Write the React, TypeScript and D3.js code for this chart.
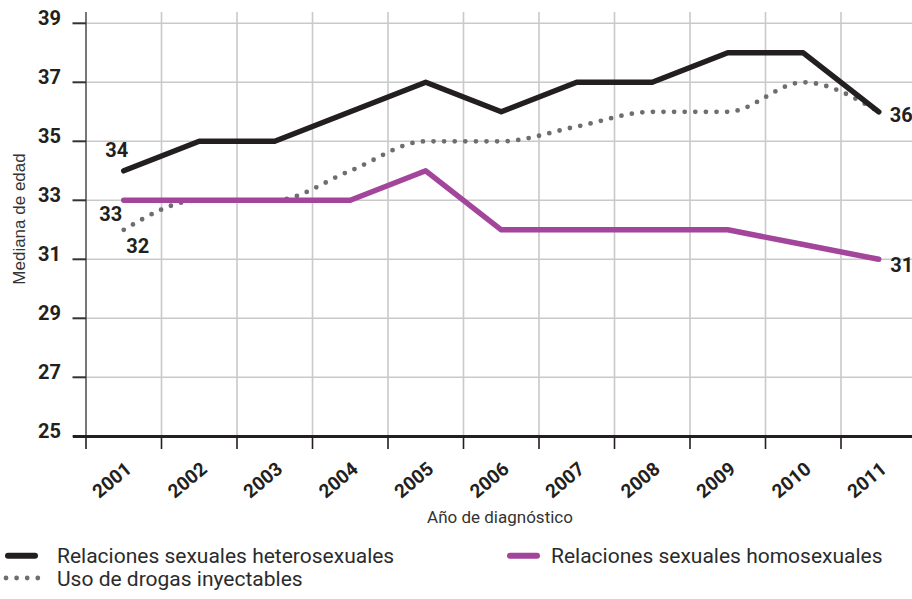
import React from "react";
import * as d3 from "d3";

// Mediana de edad por año de diagnóstico
const years = ["2001", "2002", "2003", "2004", "2005", "2006", "2007", "2008", "2009", "2010", "2011"];
const hetero = [34, 35, 35, 36, 37, 36, 37, 37, 38, 38, 36];
const homo = [33, 33, 33, 33, 34, 32, 32, 32, 32, 31.5, 31];
const drogas = [32, 33, 33, 34, 35, 35, 35.5, 36, 36, 37, 36];
const yTicks = [25, 27, 29, 31, 33, 35, 37, 39];

const seriesNames = [
  "Relaciones sexuales heterosexuales",
  "Relaciones sexuales homosexuales",
  "Uso de drogas inyectables",
];

const width = 912;
const height = 599;
const BLACK = "#231f20";
const PURPLE = "#a4459c";
const GREY = "#6d6e71";
const GRID = "#c9c9c9";
const numFont = "Roboto, 'DejaVu Sans', sans-serif";

const App = () => {
  const x = d3.scaleBand<string>().domain(years).range([86, 916.5]);
  const y = d3.scaleLinear().domain([25, 39]).range([436.3, 23.3]);
  const cx = (i: number) => (x(years[i]) as number) + x.bandwidth() / 2;

  const line = d3
    .line<number>()
    .x((d, i) => cx(i))
    .y((d) => y(d));
  const smooth = d3
    .line<number>()
    .x((d, i) => cx(i))
    .y((d) => y(d))
    .curve(d3.curveMonotoneX);

  const last = years.length - 1;
  // data labels: [text, x, y, anchor]
  const labels: [string, number, number, string][] = [
    [String(hetero[0]), cx(0) - 7, y(hetero[0]) - 14, "middle"],
    [String(homo[0]), cx(0) - 13, y(homo[0]) + 21, "middle"],
    [String(drogas[0]), cx(0) + 14, y(drogas[0]) + 23.5, "middle"],
    [String(hetero[last]), cx(last) + 11, y(hetero[last]) + 10, "start"],
    [String(homo[last]), cx(last) + 11.5, y(homo[last]) + 12.7, "start"],
  ];

  return (
    <svg
      width={width}
      height={height}
      style={{ position: "absolute", left: 0, top: 0, background: "#fff" }}
    >
      {/* grid */}
      <g>
        {yTicks.slice(1).map((t) => (
          <line key={"h" + t} x1={86} x2={width} y1={y(t)} y2={y(t)} stroke={GRID} strokeWidth={1.6} />
        ))}
        {years.slice(1).map((yr) => (
          <line key={"v" + yr} x1={x(yr)} x2={x(yr)} y1={12} y2={436} stroke={GRID} strokeWidth={1.6} />
        ))}
      </g>

      {/* y axis */}
      <line x1={86} x2={86} y1={12} y2={437} stroke="#555" strokeWidth={1.6} />
      {yTicks.map((t) => (
        <g key={"yt" + t}>
          <line x1={72.5} x2={86} y1={y(t)} y2={y(t)} stroke="#333" strokeWidth={2} />
          <text
            x={61}
            y={y(t)}
            dy="0.1em"
            textAnchor="end"
            fontFamily={numFont}
            fontWeight={700}
            fontSize={20}
            fill={BLACK}
          >
            {t}
          </text>
        </g>
      ))}
      <text
        transform={`translate(25,219) rotate(-90)`}
        textAnchor="middle"
        fontFamily="'Liberation Sans', Arial, sans-serif"
        fontSize={17}
        fill="#333"
      >
        Mediana de edad
      </text>

      {/* x axis */}
      <line x1={73} x2={width} y1={436.5} y2={436.5} stroke={BLACK} strokeWidth={3} />
      {years.map((yr) => (
        <line key={"xt" + yr} x1={x(yr)} x2={x(yr)} y1={436} y2={449} stroke={BLACK} strokeWidth={1.6} />
      ))}
      {years.map((yr, i) => (
        <text
          key={"xl" + yr}
          transform={`translate(${cx(i) + 9},471) rotate(-40)`}
          textAnchor="end"
          fontFamily={numFont}
          fontWeight={700}
          fontSize={19}
          fill={BLACK}
        >
          {yr}
        </text>
      ))}
      <text x={500} y={523} textAnchor="middle" fontFamily={numFont} fontSize={17} fill="#333">
        Año de diagnóstico
      </text>

      {/* series */}
      <path
        d={smooth(drogas) as string}
        fill="none"
        stroke={GREY}
        strokeWidth={4.8}
        strokeLinecap="round"
        strokeDasharray="0 10.6"
      />
      <path d={line(hetero) as string} fill="none" stroke={BLACK} strokeWidth={5.5} strokeLinejoin="round" strokeLinecap="round" />
      <path d={line(homo) as string} fill="none" stroke={PURPLE} strokeWidth={5.5} strokeLinejoin="round" strokeLinecap="round" />

      {labels.map(([t, lx, ly, anchor], i) => (
        <text
          key={"dl" + i}
          x={lx}
          y={ly}
          textAnchor={anchor}
          fontFamily={numFont}
          fontWeight={700}
          fontSize={20}
          fill={BLACK}
        >
          {t}
        </text>
      ))}

      {/* legend */}
      <g fontFamily={numFont} fontSize={21} fill="#2b2b2b">
        <line x1={8} x2={35} y1={555.7} y2={555.7} stroke={BLACK} strokeWidth={6} strokeLinecap="round" />
        <text x={57} y={563}>{seriesNames[0]}</text>
        <line x1={510} x2={537} y1={555.7} y2={555.7} stroke={PURPLE} strokeWidth={6} strokeLinecap="round" />
        <text x={551} y={563}>{seriesNames[1]}</text>
        <line
          x1={6}
          x2={40}
          y1={578}
          y2={578}
          stroke={GREY}
          strokeWidth={4.8}
          strokeLinecap="round"
          strokeDasharray="0 10.6"
        />
        <text x={57} y={586}>{seriesNames[2]}</text>
      </g>
    </svg>
  );
};

export default App;
